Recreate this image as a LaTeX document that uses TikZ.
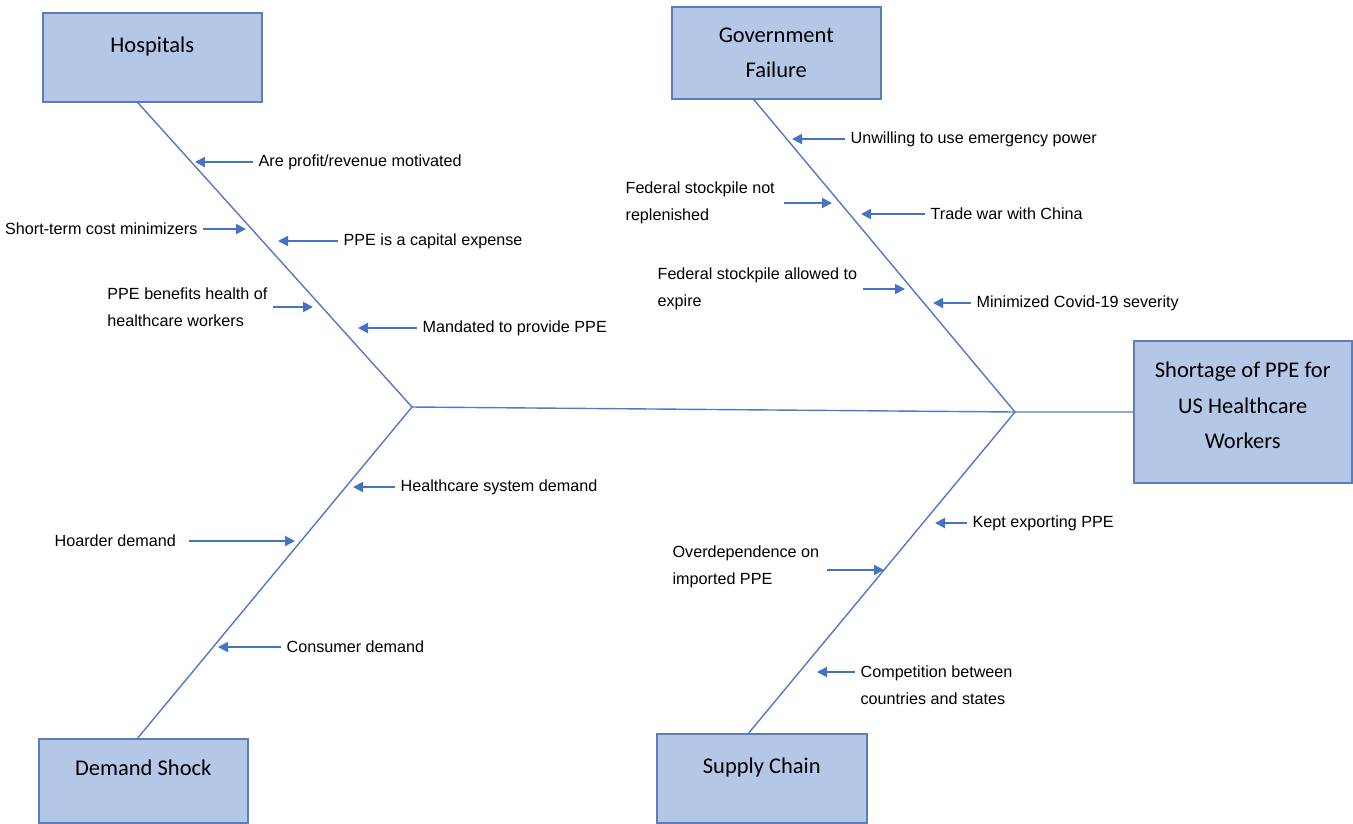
\documentclass[tikz,border=0pt]{standalone}
\usepackage{fontspec}
\setmainfont{Liberation Sans}
\newfontfamily\boxfont{Carlito}
\usetikzlibrary{arrows.meta}
\definecolor{boxfill}{HTML}{B4C7E7}
\definecolor{boxline}{HTML}{5B7DB8}
\definecolor{boneblue}{HTML}{4F7BC6}
\definecolor{arrblue}{HTML}{4472C4}
\begin{document}
\begin{tikzpicture}[x=0.02cm,y=-0.02cm,
  cat/.style={draw=boxline,fill=boxfill,line width=.9pt,inner sep=0pt,align=center,font=\boxfont\fontsize{12.8}{20.2}\selectfont},
  onecat/.style={cat,text height=.35cm,text depth=.55cm},
  cause/.style={inner xsep=3pt,inner ysep=0pt,align=left,font=\fontsize{9.2}{15.1}\selectfont},
  bone/.style={draw=boneblue,line width=.8pt},
  arr/.style={draw=arrblue,line width=1.1pt,-{Triangle[length=.2cm,width=.2cm]}}]
\useasboundingbox (0,0) rectangle (1353,823);
% category boxes
\node[onecat,anchor=north west,minimum width=4.38cm,minimum height=1.78cm] (hosp) at (42,12) {Hospitals};
\node[cat,anchor=north west,minimum width=4.18cm,minimum height=1.84cm] (gov) at (671,6) {Government\\Failure};
\node[cat,text depth=.25cm,anchor=north west,minimum width=4.36cm,minimum height=2.84cm] (short) at (1133,340) {Shortage of PPE for\\US Healthcare\\Workers};
\node[onecat,anchor=north west,minimum width=4.18cm,minimum height=1.68cm] (dem) at (38,738) {Demand Shock};
\node[onecat,anchor=north west,minimum width=4.2cm,minimum height=1.78cm] (sup) at (656,733) {Supply Chain};
% skeleton
\coordinate (jl) at (412,407);
\coordinate (jr) at (1015,412);
\draw[bone] ([xshift=-.29cm]hosp.south) -- (jl) -- ([xshift=-.11cm]dem.north);
\draw[bone] ([xshift=-.45cm]gov.south) -- (jr) -- ([xshift=-.26cm]sup.north);
\draw[bone] (jl) -- (jr) -- (short.west |- jr);
% Hospitals
\node[cause,anchor=west] (h1) at (253,162) {Are profit/revenue motivated};
\coordinate (h1e) at (195,162);
\draw[arr] (h1) -- (h1e);
\node[cause,anchor=east] (h2) at (203,229) {Short-term cost minimizers};
\coordinate (h2e) at (246,229);
\draw[arr] (h2) -- (h2e);
\node[cause,anchor=west] (h3) at (338,241) {PPE is a capital expense};
\coordinate (h3e) at (278,241);
\draw[arr] (h3) -- (h3e);
\node[cause,anchor=east] (h4) at (273,307) {PPE benefits health of\\healthcare workers};
\coordinate (h4e) at (313,307);
\draw[arr] (h4) -- (h4e);
\node[cause,anchor=west] (h5) at (417,328) {Mandated to provide PPE};
\coordinate (h5e) at (358,328);
\draw[arr] (h5) -- (h5e);
% Government Failure
\node[cause,anchor=west] (g1) at (845,139) {Unwilling to use emergency power};
\coordinate (g1e) at (792,139);
\draw[arr] (g1) -- (g1e);
\node[cause,anchor=west] (g2) at (620,203) {Federal stockpile not\\replenished};
\coordinate (g2e) at (832,203);
\draw[arr] (g2.east |- g2e) ++(4,0) -- (g2e);
\node[cause,anchor=west] (g3) at (925,214) {Trade war with China};
\coordinate (g3e) at (861,214);
\draw[arr] (g3) -- (g3e);
\node[cause,anchor=west] (g4) at (652,289) {Federal stockpile allowed to\\expire};
\coordinate (g4e) at (905,289);
\draw[arr] (g4) -- (g4e);
\node[cause,anchor=west] (g5) at (971,303) {Minimized Covid-19 severity};
\coordinate (g5e) at (933,303);
\draw[arr] (g5) -- (g5e);
% Demand Shock
\node[cause,anchor=west] (d1) at (395,487) {Healthcare system demand};
\coordinate (d1e) at (353,487);
\draw[arr] (d1) -- (d1e);
\node[cause,anchor=west] (d2) at (49,541) {Hoarder demand};
\coordinate (d2e) at (295,541);
\draw[arr] (d2.east) ++(7,0) -- (d2e);
\node[cause,anchor=west] (d3) at (281,647) {Consumer demand};
\coordinate (d3e) at (218,647);
\draw[arr] (d3) -- (d3e);
% Supply Chain
\node[cause,anchor=west] (s1) at (967,523) {Kept exporting PPE};
\coordinate (s1e) at (935,523);
\draw[arr] (s1) -- (s1e);
\node[cause,anchor=west] (s2) at (667,567) {Overdependence on\\imported PPE};
\coordinate (s2e) at (884,570);
\draw[arr] (s2.east |- s2e) ++(2,0) -- (s2e);
\node[cause,anchor=west] (s3) at (855,685) {Competition between\\countries and states};
\coordinate (s3e) at (817,672);
\draw[arr] (s3.west |- s3e) -- (s3e);
\end{tikzpicture}
\end{document}
